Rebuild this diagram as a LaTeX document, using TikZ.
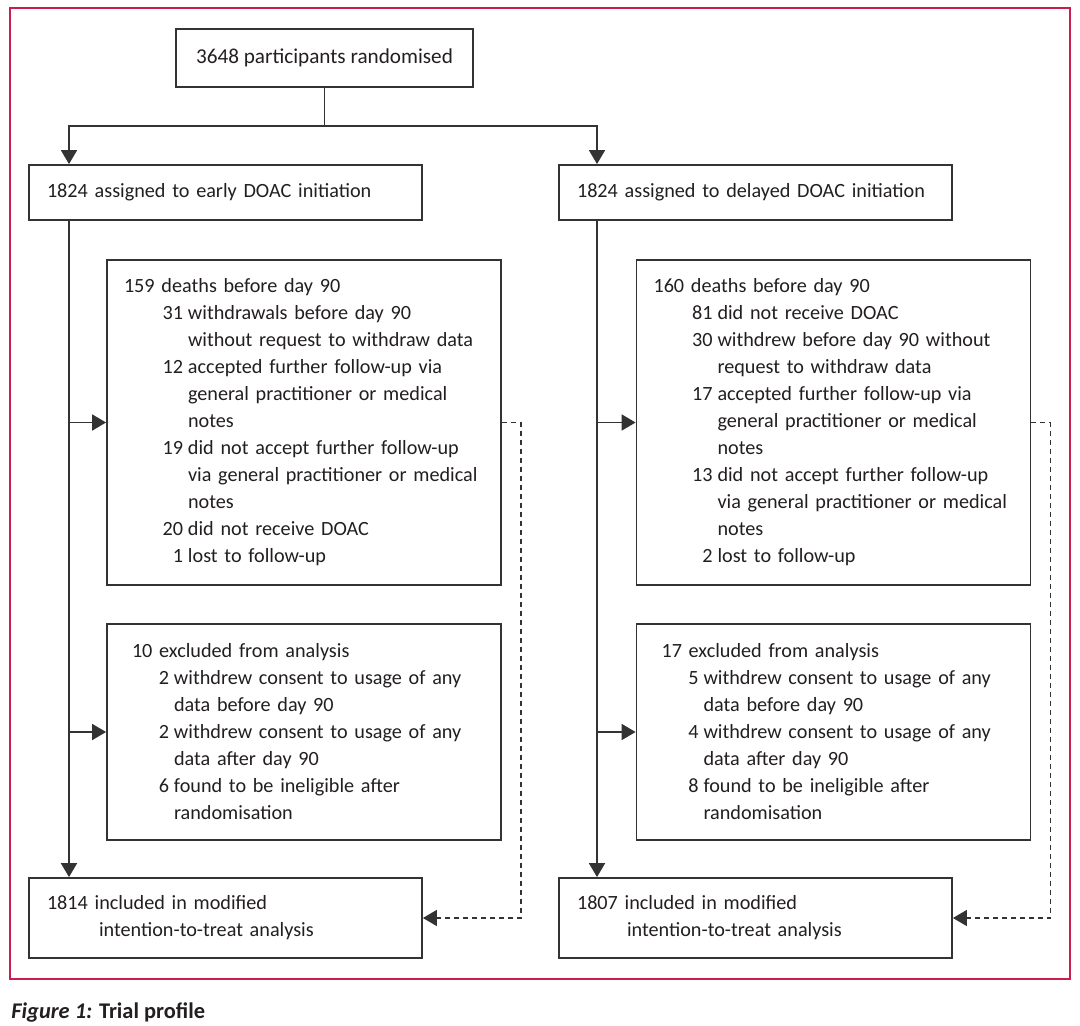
\documentclass[tikz,border=0pt]{standalone}
\usepackage{fontspec}
\setmainfont{Carlito}
\usetikzlibrary{arrows.meta,calc}
\definecolor{lcrimson}{HTML}{C81E50}
\definecolor{link}{HTML}{231F20}
\definecolor{lline}{HTML}{333333}
\setlength{\parindent}{0pt}
\setlength{\parskip}{0pt}
\hyphenpenalty=10000
\exhyphenpenalty=10000
% item with a hanging indent: #1 indent, #2 number, #3 text
\newcommand{\flitem}[3]{\par\hangindent=#1\hangafter=1\leavevmode\makebox[\dimexpr#1-2.5pt\relax][r]{#2}\hspace{2.5pt}#3\par}
\tikzset{
  box/.style={draw=lline,line width=0.9pt,fill=white,align=left,text=link,inner xsep=0pt,inner ysep=0pt,font=\fontsize{10.1}{13.5}\selectfont},
  armbox/.style={box,text width=178.5pt,minimum width=196.5pt},
  listbox/.style={box,minimum width=197pt},
  arr/.style={-{Triangle[length=7pt,width=8pt]},line width=0.9pt,draw=lline},
  darr/.style={arr,line width=0.8pt,dash pattern=on 2.5pt off 2pt},
  frame/.style={draw=lcrimson,line width=0.8pt},
  lbl/.style={text=link,inner sep=0pt,font=\fontsize{11.2}{13}\selectfont\bfseries},
}
\begin{document}
\begin{tikzpicture}[x=0.5pt,y=-0.5pt]
  \useasboundingbox (0,0) rectangle (1080,1026);
  % frame
  \draw[frame] (10,8) rectangle (1070,979);
  % randomisation
  \node[box,align=center,minimum width=148.5pt,minimum height=29pt,font=\fontsize{10.6}{13.5}\selectfont] (rand) at (324.5,58) {3648 participants randomised};
  % arms
  \node[armbox,minimum height=27.5pt] (early) at (225.5,192.5) {1824 assigned to early DOAC initiation};
  \node[armbox,minimum height=27.5pt] (late) at (755.5,192.5) {1824 assigned to delayed DOAC initiation};
  % deaths and withdrawals
  \node[listbox,text width=180pt,minimum height=162.5pt] (deathE) at (304,422.5) {159 deaths before day 90
    \flitem{32pt}{31}{withdrawals before day 90\newline without request to withdraw data}
    \flitem{32pt}{12}{accepted further follow-up via\newline general practitioner or medical\newline notes}
    \flitem{32pt}{19}{did not accept further follow-up\newline via general practitioner or medical\newline notes}
    \flitem{32pt}{20}{did not receive DOAC}
    \flitem{32pt}{1}{lost to follow-up}};
  \node[listbox,text width=180pt,minimum height=162.5pt] (deathD) at (833.5,422.5) {160 deaths before day 90
    \flitem{32pt}{81}{did not receive DOAC}
    \flitem{32pt}{30}{withdrew before day 90 without\newline request to withdraw data}
    \flitem{32pt}{17}{accepted further follow-up via\newline general practitioner or medical\newline notes}
    \flitem{32pt}{13}{did not accept further follow-up\newline via general practitioner or medical\newline notes}
    \flitem{32pt}{2}{lost to follow-up}};
  % exclusions
  \node[listbox,text width=172pt,minimum height=108pt] (exclE) at (304,732) {10 excluded from analysis
    \flitem{21pt}{2}{withdrew consent to usage of any\newline data before day 90}
    \flitem{21pt}{2}{withdrew consent to usage of any\newline data after day 90}
    \flitem{21pt}{6}{found to be ineligible after\newline randomisation}};
  \node[listbox,text width=172pt,minimum height=108pt] (exclD) at (833.5,732) {17 excluded from analysis
    \flitem{21pt}{5}{withdrew consent to usage of any\newline data before day 90}
    \flitem{21pt}{4}{withdrew consent to usage of any\newline data after day 90}
    \flitem{21pt}{8}{found to be ineligible after\newline randomisation}};
  % analysis
  \node[armbox,minimum height=40pt] (itteE) at (225.5,918) {\hangindent=26pt\hangafter=1 1814 included in modified\newline intention-to-treat analysis\par};
  \node[armbox,minimum height=40pt] (itteD) at (755.5,918) {\hangindent=25pt\hangafter=1 1807 included in modified\newline intention-to-treat analysis\par};
  % caption
  \node[lbl,anchor=base west] (cap) at (11,1018) {\textit{Figure 1:} Trial profile};
  % connectors
  \coordinate (brE) at (69,126);
  \coordinate (brD) at (597,126);
  \draw[arr] (rand.south) |- (brE) -- (brE |- early.north);
  \draw[arr] (rand.south) |- (brD) -- (brD |- late.north);
  \draw[arr] (brE |- early.south) -- (brE |- itteE.north);
  \draw[arr] (brD |- late.south) -- (brD |- itteD.north);
  \draw[arr] (brE |- deathE.west) -- (deathE.west);
  \draw[arr] (brE |- exclE.west) -- (exclE.west);
  \draw[arr] (brD |- deathD.west) -- (deathD.west);
  \draw[arr] (brD |- exclD.west) -- (exclD.west);
  \draw[darr] (deathE.east) -- ++(19,0) |- (itteE.east);
  \draw[darr] (deathD.east) -- ++(19,0) |- (itteD.east);
\end{tikzpicture}
\end{document}
